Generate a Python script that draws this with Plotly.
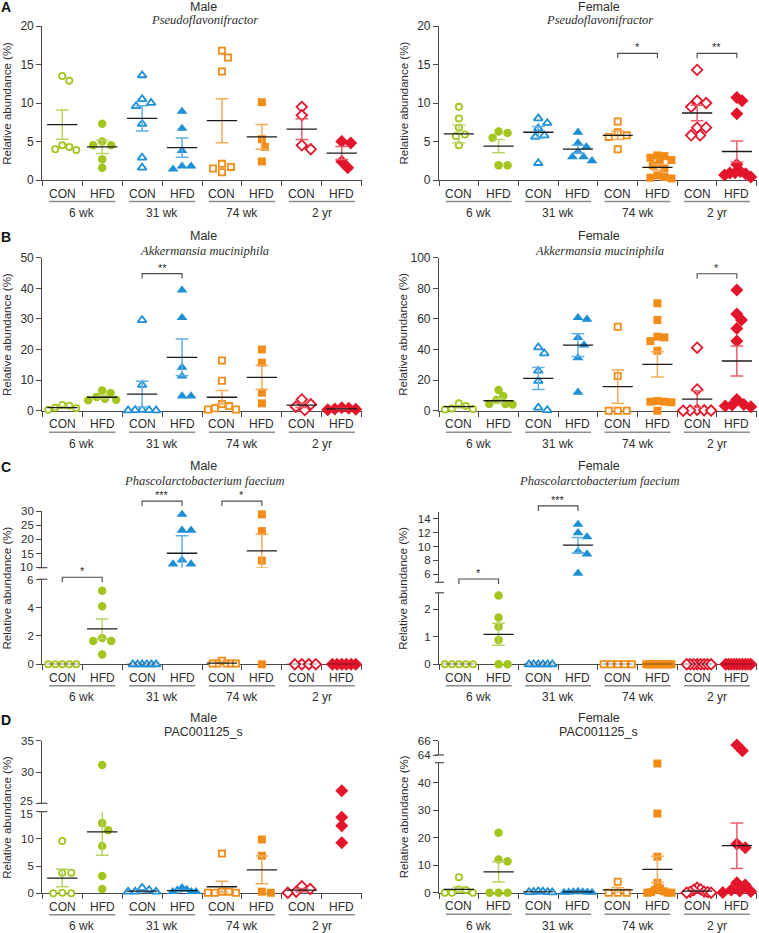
import plotly.graph_objects as go

W, H = 759, 933

AGES = ["6 wk", "31 wk", "74 wk", "2 yr"]
DIETS = ["CON", "HFD"]
AGE_COLORS = ["#a3c61e", "#1d8fd6", "#f28c17", "#e3152b"]
ERR_COLORS = ["#b8d564", "#5fb0e6", "#f4aa58", "#ec5d6c"]
AGE_SYMBOLS = ["circle", "triangle-up", "square", "diamond"]

# ---------------- data (relative abundance, %) ----------------
# order of groups: CON 6wk, HFD 6wk, CON 31wk, HFD 31wk, CON 74wk, HFD 74wk, CON 2yr, HFD 2yr
A_MALE = [
    [13.5, 12.9, 4.3, 3.9, 4.5, 4.0],
    [7.3, 5.0, 4.5, 4.5, 2.7, 1.6],
    [13.6, 10.5, 10.0, 9.6, 7.3, 2.9, 1.6],
    [8.9, 6.7, 3.8, 1.8, 1.4, 1.8],
    [16.8, 15.9, 14.1, 2.1, 1.7, 1.5, 1.0],
    [10.1, 5.3, 4.3, 2.4],
    [9.5, 8.4, 4.5, 4.0],
    [5.0, 4.8, 2.4, 1.6],
]
A_MALE_MEAN = [7.2, 4.3, 8.0, 4.2, 7.7, 5.6, 6.6, 3.5]
A_MALE_SEM = [1.9, 0.85, 1.65, 1.25, 2.85, 1.6, 1.35, 0.85]

A_FEMALE = [
    [9.5, 8.0, 6.8, 5.7, 5.9, 4.5],
    [6.3, 6.1, 5.5, 1.9, 1.9],
    [8.0, 7.4, 6.7, 5.8, 5.6, 2.2],
    [6.2, 4.8, 4.3, 3.7, 3.0, 3.0, 2.5],
    [7.6, 6.2, 5.8, 5.6, 4.0],
    [3.2, 3.1, 2.9, 2.6, 2.2, 1.9, 1.5, 0.6, 0.4, 0.3, 0.2],
    [14.3, 10.3, 10.0, 9.5, 6.8, 6.8, 5.8, 5.8],
    [10.7, 10.3, 8.6, 2.0, 1.1, 0.95, 0.9, 0.8, 0.65, 0.4],
]
A_FEMALE_MEAN = [6.0, 4.4, 6.2, 4.0, 5.8, 1.65, 8.7, 3.7]
A_FEMALE_SEM = [1.15, 0.85, 0.75, 0.5, 0.55, 0.35, 1.0, 1.35]

B_MALE = [
    [1.9, 1.6, 1.0, 0.8, 0.3],
    [6.6, 5.8, 4.5, 3.9, 3.6, 3.4],
    [29.6, 8.4, 0.3, 0.2, 0.2, 0.1, 0.1],
    [39.4, 30.4, 14.2, 11.3, 4.8, 4.8],
    [16.4, 9.8, 2.2, 1.5, 0.8, 0.4, 0.4],
    [20.0, 15.7, 5.9, 2.4],
    [3.7, 2.1, 1.3, 0.2],
    [1.0, 0.8, 0.55, 0.5, 0.3],
]
B_MALE_MEAN = [1.0, 4.4, 5.4, 17.4, 4.4, 10.9, 1.8, 0.6]
B_MALE_SEM = [0.3, 0.5, 4.2, 6.0, 2.2, 3.95, 0.75, 0.15]

B_FEMALE = [
    [4.8, 3.0, 1.5, 1.1, 0.8],
    [13.5, 9.6, 7.0, 4.4, 4.4, 4.1],
    [41.4, 37.5, 26.1, 19.4, 2.0, 0.4],
    [60.8, 59.7, 47.7, 42.9, 34.6, 12.0],
    [54.9, 22.7, 0.0, 0.0, 0.0],
    [70.2, 59.3, 48.4, 47.9, 45.5, 39.2, 6.3, 5.9, 5.9, 5.5, 0.0],
    [41.2, 13.9, 0.6, 0.3, 0.2, 0.1, 0.0],
    [78.9, 63.2, 59.3, 53.8, 45.5, 7.4, 4.1, 3.7, 3.0, 2.6],
]
B_FEMALE_MEAN = [2.6, 6.5, 21.1, 42.9, 15.7, 30.3, 7.6, 32.5]
B_FEMALE_SEM = [0.7, 1.4, 7.2, 7.4, 10.9, 8.2, 5.5, 9.8]

C_MALE = [
    [0, 0, 0, 0, 0],
    [5.2, 4.1, 1.85, 1.65, 1.65, 0.7],
    [0, 0, 0, 0, 0, 0],
    [28.8, 23.2, 23.2, 12.7, 11.3, 11.3],
    [0.25, 0.05, 0.05, 0.05, 0.05, 0.05],
    [28.8, 22.9, 12.5, 0.0],
    [0, 0, 0, 0],
    [0, 0, 0, 0, 0, 0],
]
C_MALE_MEAN = [0, 2.5, 0, 15.1, 0.08, 15.9, 0, 0]
C_MALE_SEM = [0, 0.7, 0, 6.2, 0.04, 5.9, 0, 0]

C_FEMALE = [
    [0, 0, 0, 0, 0],
    [2.5, 1.7, 1.37, 0.88, 0, 0],
    [0, 0, 0, 0, 0, 0],
    [13.2, 12.0, 11.4, 9.3, 8.9, 6.1],
    [0, 0, 0, 0, 0],
    [0, 0, 0, 0, 0, 0, 0, 0, 0, 0],
    [0, 0, 0, 0, 0, 0, 0, 0],
    [0, 0, 0, 0, 0, 0, 0, 0, 0, 0],
]
C_FEMALE_MEAN = [0, 1.09, 0, 10.2, 0, 0, 0, 0]
C_FEMALE_SEM = [0, 0.4, 0, 1.1, 0, 0, 0, 0]

D_MALE = [
    [9.6, 3.8, 3.8, 0.1, 0, 0],
    [31.1, 12.9, 11.6, 8.7, 3.2, 0.8],
    [1.0, 0.6, 0.3, 0.3, 0.3],
    [1.0, 0.7, 0.6, 0.3, 0.3, 0.3],
    [7.3, 0.3, 0.3, 0.1, 0.1, 0.1],
    [9.9, 6.9, 0.3, 0.1],
    [1.3, 0.8, 0.3, 0.1],
    [27.0, 14.0, 12.4, 9.3],
]
D_MALE_MEAN = [2.8, 11.3, 0.4, 0.5, 1.2, 4.3, 0.6, None]
D_MALE_SEM = [1.6, 4.3, 0.15, 0.12, 1.0, 2.55, 0.3, None]

D_FEMALE = [
    [5.6, 1.2, 1.0, 0, 0, 0],
    [21.8, 12.1, 11.4, 0, 0, 0],
    [0.5, 0.4, 0.3, 0.2, 0.2, 0.1],
    [0.4, 0.3, 0.3, 0.2, 0.2, 0.1, 0.1],
    [4.0, 0, 0, 0],
    [47.0, 28.8, 13.1, 3.6, 1.6, 1.0, 0.5, 0.2, 0, 0, 0],
    [1.8, 1.2, 1.0, 0.4, 0.3, 0.2, 0, 0],
    [65.4, 64.6, 17.7, 16.4, 3.6, 2.8, 1.0, 0.6, 0.4, 0.1],
]
D_FEMALE_MEAN = [1.2, 7.6, 0.3, 0.25, 1.0, 8.5, 0.6, 17.1]
D_FEMALE_SEM = [0.9, 3.7, 0.1, 0.05, 0.9, 4.8, 0.25, 8.3]

# significance: (CON group index, label, bracket value, axis segment)
A_FEMALE_SIG = [(4, "*", 16.45, 0), (6, "**", 16.45, 0)]
B_MALE_SIG = [(2, "**", 44.8, 0)]
B_FEMALE_SIG = [(6, "*", 89.5, 0)]
C_MALE_SIG = [(0, "*", 6.14, 0), (2, "***", 33.5, 1), (4, "*", 33.5, 1)]
C_FEMALE_SIG = [(0, "*", 3.1, 0), (2, "***", 15.9, 1)]

# ---------------- layout geometry (pixels) ----------------
SANS = "Liberation Sans, Arial, sans-serif"
SERIF = "Liberation Serif, Times New Roman, serif"
AXC = "#4a4a4a"
TXT = "#2e2e2e"
LEFT = (42.3, 361.7)
RIGHT = (439.0, 756.7)

PANELS = [
    dict(letter="A", sex="Male", sp="Pseudoflavonifractor", it=True, xpx=LEFT, ty=(7, 20),
         data=A_MALE, mean=A_MALE_MEAN, sem=A_MALE_SEM, sig=[],
         segs=[dict(px=(180.0, 26.0), rng=(0, 20), ticks=[0, 5, 10, 15, 20])]),
    dict(letter=None, sex="Female", sp="Pseudoflavonifractor", it=True, xpx=RIGHT, ty=(7, 20),
         data=A_FEMALE, mean=A_FEMALE_MEAN, sem=A_FEMALE_SEM, sig=A_FEMALE_SIG,
         segs=[dict(px=(180.0, 26.0), rng=(0, 20), ticks=[0, 5, 10, 15, 20])]),
    dict(letter="B", sex="Male", sp="Akkermansia muciniphila", it=True, xpx=LEFT, ty=(236, 251),
         data=B_MALE, mean=B_MALE_MEAN, sem=B_MALE_SEM, sig=B_MALE_SIG,
         segs=[dict(px=(410.7, 257.7), rng=(0, 50), ticks=[0, 10, 20, 30, 40, 50])]),
    dict(letter=None, sex="Female", sp="Akkermansia muciniphila", it=True, xpx=RIGHT, ty=(236, 251),
         data=B_FEMALE, mean=B_FEMALE_MEAN, sem=B_FEMALE_SEM, sig=B_FEMALE_SIG,
         segs=[dict(px=(410.7, 257.7), rng=(0, 100), ticks=[0, 20, 40, 60, 80, 100])]),
    dict(letter="C", sex="Male", sp="Phascolarctobacterium faecium", it=True, xpx=LEFT, ty=(466, 481),
         data=C_MALE, mean=C_MALE_MEAN, sem=C_MALE_SEM, sig=C_MALE_SIG,
         segs=[dict(px=(664.3, 579.3), rng=(0, 6), ticks=[0, 2, 4, 6]),
               dict(px=(567.7, 511.0), rng=(10, 30), ticks=[10, 15, 20, 25, 30])]),
    dict(letter=None, sex="Female", sp="Phascolarctobacterium faecium", it=True, xpx=RIGHT, ty=(466, 481),
         data=C_FEMALE, mean=C_FEMALE_MEAN, sem=C_FEMALE_SEM, sig=C_FEMALE_SIG,
         segs=[dict(px=(664.3, 592.8), rng=(0, 2.6), ticks=[0, 1, 2]),
               dict(px=(582.3, 512.1), rng=(4.8, 15), ticks=[6, 8, 10, 12, 14])]),
    dict(letter="D", sex="Male", sp="PAC001125_s", it=False, xpx=LEFT, ty=(718, 732),
         data=D_MALE, mean=D_MALE_MEAN, sem=D_MALE_SEM, sig=[],
         segs=[dict(px=(893.3, 811.7), rng=(0, 15), ticks=[0, 5, 10, 15]),
               dict(px=(803.3, 740.7), rng=(25, 35), ticks=[25, 30, 35])]),
    dict(letter=None, sex="Female", sp="PAC001125_s", it=False, xpx=RIGHT, ty=(718, 732),
         data=D_FEMALE, mean=D_FEMALE_MEAN, sem=D_FEMALE_SEM, sig=[],
         segs=[dict(px=(892.7, 762.7), rng=(0, 47.3), ticks=[0, 10, 20, 30, 40]),
               dict(px=(755.0, 740.7), rng=(64, 66), ticks=[64, 66])]),
]
LETTER_Y = {"A": 7, "B": 237, "C": 467, "D": 720}

# marker sizes: (filled, open)
SIZES = {"circle": (8.5, 6.2), "triangle-up": (9.5, 7.8), "square": (8.0, 6.2), "diamond": (10.0, 8.0)}


def seg_index(P, v):
    if len(P["segs"]) == 1:
        return 0
    return 0 if v <= P["segs"][0]["rng"][1] + 1e-9 else 1


def val_px(seg, v):
    b, t = seg["px"]
    lo, hi = seg["rng"]
    return b - (v - lo) / (hi - lo) * (b - t)


def swarm(ys, diam=8.0, step=3.0, maxw=14.0):
    order = sorted(range(len(ys)), key=lambda i: ys[i])
    cands = [0.0]
    for n in range(1, 60):
        cands += [n * step, -n * step]
    placed, offs = [], [0.0] * len(ys)
    for i in order:
        y = ys[i]
        for c in cands:
            if all((c - px) ** 2 + (y - py) ** 2 >= diam ** 2 for px, py in placed):
                offs[i] = c
                placed.append((c, y))
                break
    m = max(abs(o) for o in offs) if offs else 0
    if m > maxw:
        offs = [o * maxw / m for o in offs]
    return offs


fig = go.Figure()
axes = {}
annotations = []
shapes = []


def ann(text, px, py, size=12, family=SANS, color=TXT, **kw):
    d = dict(text=text, x=px / W, y=1 - py / H, xref="paper", yref="paper",
             showarrow=False, font=dict(size=size, family=family, color=color),
             xanchor="center", yanchor="middle")
    d.update(kw)
    annotations.append(d)


def line(x0, y0, x1, y1, color=AXC, width=1.2):
    shapes.append(dict(type="line", xref="paper", yref="paper",
                       x0=x0 / W, y0=1 - y0 / H, x1=x1 / W, y1=1 - y1 / H,
                       line=dict(color=color, width=width)))


xi = 0
yi = 0
for P in PANELS:
    xi += 1
    xname = "xaxis" if xi == 1 else f"xaxis{xi}"
    xref = "x" if xi == 1 else f"x{xi}"
    x0, x1 = P["xpx"]
    ppc = (x1 - x0) / 8.0
    cx = lambda c: x0 + (c + 0.5) * ppc
    yrefs = []
    broken = len(P["segs"]) > 1
    fs = 11.5 if broken else 12

    # labels at the cut ends that would collide are moved apart slightly
    moved = {}
    if broken:
        lo_seg, up_seg = P["segs"]
        v_lo, v_up = lo_seg["rng"][1], up_seg["rng"][0]
        y_lo, y_up = lo_seg["px"][1], up_seg["px"][0]
        need = fs + 0.8
        if v_lo in lo_seg["ticks"] and v_up in up_seg["ticks"] and (y_lo - y_up) < need:
            d = (need - (y_lo - y_up)) / 2
            moved[(0, v_lo)] = y_lo + d
            moved[(1, v_up)] = y_up - d

    for s_i, seg in enumerate(P["segs"]):
        yi += 1
        yname = "yaxis" if yi == 1 else f"yaxis{yi}"
        yref = "y" if yi == 1 else f"y{yi}"
        b, t = seg["px"]
        ttext = []
        for v in seg["ticks"]:
            if (s_i, v) in moved:
                ttext.append("")
                ann(str(v), x0 - 7.5, moved[(s_i, v)], size=fs, xanchor="right")
            else:
                ttext.append(str(v))
        axes[yname] = dict(domain=[1 - b / H, 1 - t / H], range=list(seg["rng"]), anchor=xref,
                           showline=True, linecolor=AXC, linewidth=1.2, ticks="outside",
                           ticklen=5, tickwidth=1.2, tickcolor=AXC, tickmode="array",
                           tickvals=seg["ticks"], ticktext=ttext,
                           tickfont=dict(size=fs, family=SANS, color=TXT),
                           showgrid=False, zeroline=False, fixedrange=True, automargin=False,
                           layer="below traces")
        yrefs.append(yref)
    axes[xname] = dict(domain=[x0 / W, x1 / W], range=[-0.5, 7.5], anchor=yrefs[0],
                       showline=True, linecolor=AXC, linewidth=1.2, ticks="outside", ticklen=5,
                       tickwidth=1.2, tickcolor=AXC, tickmode="array",
                       tickvals=[i - 0.5 for i in range(9)], showticklabels=False,
                       showgrid=False, zeroline=False, fixedrange=True, automargin=False,
                       layer="below traces")

    # markers
    for g in range(8):
        age, filled = g // 2, g % 2 == 1
        vals = P["data"][g]
        pys = [val_px(P["segs"][seg_index(P, v)], v) for v in vals]
        offs = swarm(pys)
        for s, yref in enumerate(yrefs):
            idx = [k for k, v in enumerate(vals) if seg_index(P, v) == s]
            if not idx:
                continue
            sym = AGE_SYMBOLS[age]
            size = SIZES[sym][0 if filled else 1]
            fig.add_trace(go.Scatter(
                x=[g + offs[k] / ppc for k in idx], y=[vals[k] for k in idx],
                xaxis=xref, yaxis=yref, mode="markers", cliponaxis=False,
                marker=dict(symbol=sym, size=size,
                            color=AGE_COLORS[age] if filled else "white",
                            line=dict(color=AGE_COLORS[age], width=0 if filled else 1.8)),
                hoverinfo="skip", showlegend=False))

    # error bars and means
    for g in range(8):
        age = g // 2
        m, se = P["mean"][g], P["sem"][g]
        if m is None:
            continue
        s = seg_index(P, m)
        yref = yrefs[s]
        hi_lim = P["segs"][s]["rng"][1]
        if se > 0:
            top = m + se
            clipped = broken and s == 0 and top > hi_lim
            ex = [g, g, None, g - 0.16, g + 0.16]
            ey = [m - se, hi_lim if clipped else top, None, m - se, m - se]
            if not clipped:
                ex += [None, g - 0.16, g + 0.16]
                ey += [None, top, top]
            fig.add_trace(go.Scatter(x=ex, y=ey, xaxis=xref, yaxis=yref, mode="lines",
                                     line=dict(color=ERR_COLORS[age], width=1.5),
                                     cliponaxis=False, hoverinfo="skip", showlegend=False))
        fig.add_trace(go.Scatter(x=[g - 0.38, g + 0.38], y=[m, m], xaxis=xref, yaxis=yref,
                                 mode="lines", line=dict(color="#1a1a1a", width=1.3),
                                 cliponaxis=False, hoverinfo="skip", showlegend=False))

    # break marks (short horizontal bars crossing the axis at each cut end)
    if broken:
        line(x0 - 4, P["segs"][0]["px"][1], x0 + 5, P["segs"][0]["px"][1])
        line(x0 - 4, P["segs"][1]["px"][0], x0 + 5, P["segs"][1]["px"][0])

    # significance brackets
    for g, lab, v, s in P["sig"]:
        py = val_px(P["segs"][s], v)
        xa, xb = cx(g), cx(g + 1)
        shapes.append(dict(type="path", xref="paper", yref="paper",
                           path=f"M {xa / W} {1 - (py + 5) / H} L {xa / W} {1 - py / H} "
                                f"L {xb / W} {1 - py / H} L {xb / W} {1 - (py + 5) / H}",
                           line=dict(color=AXC, width=1.1)))
        ann(lab, (xa + xb) / 2, py - 6, size=11)

    # bottom labels
    base = P["segs"][0]["px"][0]
    for g in range(8):
        ann(DIETS[g % 2], cx(g), base + 13.7, size=12)
    for a in range(4):
        line(cx(2 * a) - 0.33 * ppc, base + 21.5, cx(2 * a + 1) + 0.33 * ppc, base + 21.5,
             color="#8c8c8c", width=1.5)
        ann(AGES[a], (cx(2 * a) + cx(2 * a + 1)) / 2, base + 33, size=12)

    # titles
    mid = (x0 + x1) / 2 + 1
    ann(P["sex"], mid, P["ty"][0], size=12.5)
    if P["it"]:
        ann("<i>" + P["sp"] + "</i>", mid + 1, P["ty"][1], size=12.5, family=SERIF)
    else:
        ann(P["sp"], mid, P["ty"][1], size=12.5)
    if P["letter"]:
        ann("<b>" + P["letter"] + "</b>", 6, LETTER_Y[P["letter"]], size=14, color="#111")

    # y title
    top_px = P["segs"][-1]["px"][1]
    ycen = (base + top_px) / 2
    ann("Relative abundance (%)", x0 - 35.5, ycen, size=11.5, textangle=-90)

fig.update_layout(template="none", width=W, height=H,
                  margin=dict(l=0, r=0, t=0, b=0, pad=0, autoexpand=False),
                  paper_bgcolor="white", plot_bgcolor="rgba(0,0,0,0)",
                  annotations=annotations, shapes=shapes, showlegend=False, **axes)
fig.write_html("out.html", config={"displayModeBar": False, "responsive": False},
               post_script="document.documentElement.style.margin='0';"
                           "document.body.style.margin='0';document.body.style.padding='0';"
                           "document.body.style.overflow='hidden';"
                           "document.documentElement.style.overflow='hidden';"
                           "var gd=document.getElementById('{plot_id}');"
                           "gd.style.position='fixed';gd.style.left='0px';gd.style.top='0px';")
